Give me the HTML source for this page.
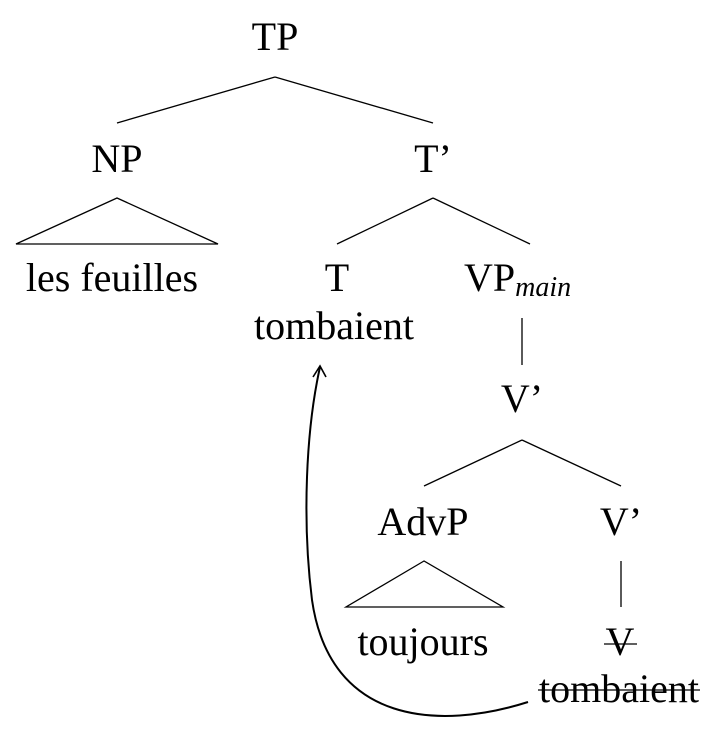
<!DOCTYPE html>
<html><head><style>html,body{margin:0;padding:0;background:#fff}svg{display:block}</style></head>
<body>
<svg width="716" height="752" viewBox="0 0 716 752" xmlns="http://www.w3.org/2000/svg" font-family="'Liberation Serif',serif" font-size="40" fill="#000">
<g stroke="#000" stroke-width="1.3" fill="none">
<line x1="275" y1="77" x2="117" y2="123"/><line x1="275" y1="77" x2="433" y2="123"/>
<polygon points="117,198 16,244 218,244"/>
<line x1="433" y1="198" x2="337" y2="244"/><line x1="433" y1="198" x2="530" y2="244"/>
<line x1="522" y1="318" x2="522" y2="365"/>
<line x1="522" y1="440" x2="424" y2="486"/><line x1="522" y1="440" x2="621" y2="486"/>
<polygon points="424,561 346,607 503,607"/>
<line x1="621" y1="561" x2="621" y2="607"/>
<line x1="604" y1="644" x2="637" y2="644"/>
<line x1="538" y1="690" x2="700" y2="690"/>
<path d="M528,702 C440,730 330,725 312,600 C302,520 306,430 320,367" stroke-width="2"/>
<path d="M313,377 L320,366 L326,377" stroke-width="1.6"/>
</g>
<g text-anchor="middle">
<text x="275" y="50">TP</text>
<text x="117" y="172">NP</text>
<text x="433" y="172">T’</text>
<text x="112" y="291">les feuilles</text>
<text x="337" y="291">T</text>
<text x="334" y="339">tombaient</text>
<text x="522" y="412">V’</text>
<text x="423" y="535">AdvP</text>
<text x="621" y="535">V’</text>
<text x="423" y="655">toujours</text>
<text x="620" y="655">V</text>
<text x="619" y="702">tombaient</text>
</g>
<text x="464" y="291">VP<tspan font-style="italic" font-size="28" dy="5">main</tspan></text>
</svg>
</body></html>
